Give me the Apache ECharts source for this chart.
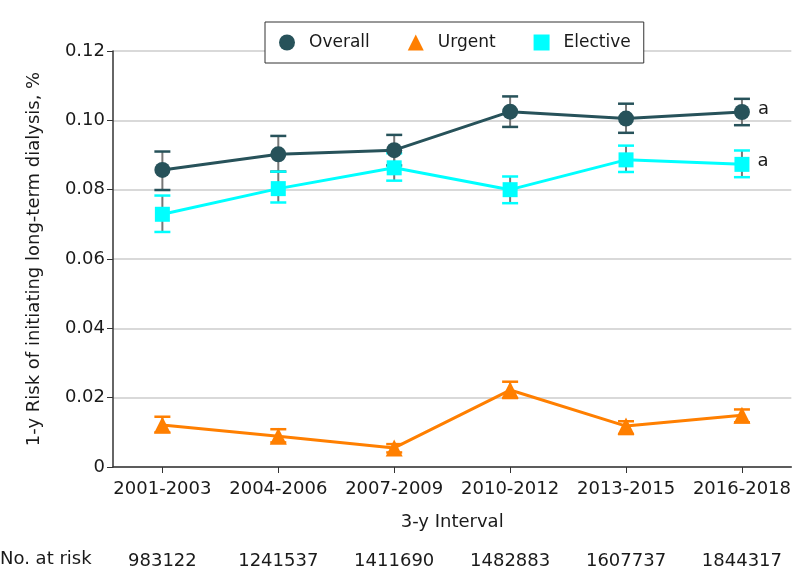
<!DOCTYPE html>
<html><head><meta charset="utf-8">
<script src="https://cdn.jsdelivr.net/npm/echarts@6/dist/echarts.min.js"></script>
<style>html,body{margin:0;padding:0;background:#fff}#c{width:794px;height:588px}</style>
</head><body><div id="c"></div>
<script>
const categories = ['2001-2003','2004-2006','2007-2009','2010-2012','2013-2015','2016-2018'];
const atRisk = ['983122','1241537','1411690','1482883','1607737','1844317'];
const overall = [0.0857, 0.0902, 0.0914, 0.1025, 0.1005, 0.1024];
const overallLow = [0.0799, 0.0852, 0.0870, 0.0981, 0.0964, 0.0986];
const overallHigh = [0.0910, 0.0955, 0.0958, 0.1069, 0.1048, 0.1062];
const urgent = [0.0121, 0.0089, 0.0055, 0.0222, 0.0118, 0.0149];
const urgentLow = [0.0100, 0.0071, 0.0042, 0.0199, 0.0095, 0.0129];
const urgentHigh = [0.0145, 0.0109, 0.0066, 0.0246, 0.0132, 0.0166];
const elective = [0.0729, 0.0803, 0.0863, 0.0800, 0.0886, 0.0873];
const electiveLow = [0.0678, 0.0763, 0.0826, 0.0761, 0.0851, 0.0836];
const electiveHigh = [0.0783, 0.0852, 0.0905, 0.0838, 0.0927, 0.0913];
const yTicks = [0, 0.02, 0.04, 0.06, 0.08, 0.10, 0.12];

const C_OV = '#27525A', C_UR = '#FF7F00', C_EL = '#00FFFF';
const FONT = 'DejaVu Sans';
const idx = categories.map((_, i) => i);

function errSeries(name, lo, hi, color) {
  return {
    type: 'custom', name: name + ' CI', z: 1, silent: true,
    data: idx.map(i => [i, lo[i], hi[i]]),
    renderItem: function (params, api) {
      const x = api.value(0);
      const pLo = api.coord([x, api.value(1)]);
      const pHi = api.coord([x, api.value(2)]);
      const hw = 8;
      return {
        type: 'group',
        children: [
          { type: 'line', shape: { x1: pLo[0], y1: pLo[1], x2: pHi[0], y2: pHi[1] }, style: { stroke: '#777777', lineWidth: 2 } },
          { type: 'line', shape: { x1: pLo[0] - hw, y1: pLo[1], x2: pLo[0] + hw, y2: pLo[1] }, style: { stroke: color, lineWidth: 2.5 } },
          { type: 'line', shape: { x1: pHi[0] - hw, y1: pHi[1], x2: pHi[0] + hw, y2: pHi[1] }, style: { stroke: color, lineWidth: 2.5 } }
        ]
      };
    }
  };
}
function lineSeries(name, vals, color, symbol, size, mark) {
  return {
    type: 'line', name: name, z: 3, symbol: symbol, symbolSize: size,
    lineStyle: { color: color, width: 3 }, itemStyle: { color: color },
    data: idx.map(i => {
      const d = { value: [i, vals[i]] };
      if (mark && i === idx.length - 1) {
        d.label = { show: true, position: 'right', distance: 8, formatter: 'a', color: '#1a1a1a', fontSize: 18, fontFamily: FONT, offset: [0, -3] };
      }
      return d;
    })
  };
}

const chart = echarts.init(document.getElementById('c'), null, { renderer: 'canvas' });
chart.setOption({
  animation: false,
  backgroundColor: '#fff',
  textStyle: { fontFamily: FONT },
  grid: { left: 113, right: 1, top: 51, bottom: 121, containLabel: false },
  legend: {
    left: 265, top: 22, height: 41,
    orient: 'horizontal', padding: [12, 13, 12, 14],
    backgroundColor: '#fff', borderColor: '#333', borderWidth: 1, borderRadius: 0,
    itemWidth: 16, itemHeight: 16, itemGap: 38,
    textStyle: { fontFamily: FONT, fontSize: 17, color: '#1a1a1a', padding: [0, 0, 0, 9] },
    data: [
      { name: 'Overall', icon: 'circle', itemStyle: { color: C_OV } },
      { name: 'Urgent', icon: 'triangle', itemStyle: { color: C_UR } },
      { name: 'Elective', icon: 'rect', itemStyle: { color: C_EL } }
    ]
  },
  xAxis: [{
    type: 'value', min: -0.426, max: 5.426,
    name: '3-y Interval', nameLocation: 'middle', nameGap: 46,
    nameTextStyle: { fontFamily: FONT, fontSize: 18, color: '#1a1a1a' },
    axisLine: { show: true, onZero: false, lineStyle: { color: '#333', width: 1.5 } },
    axisTick: { show: true, length: 6, lineStyle: { color: '#333' }, customValues: idx },
    axisLabel: { customValues: idx, margin: 13, fontFamily: FONT, fontSize: 18, color: '#1a1a1a',
      formatter: v => categories[Math.round(v)] },
    splitLine: { show: false }
  }, {
    type: 'value', min: -0.426, max: 5.426, position: 'bottom', offset: 73,
    axisLine: { show: false, onZero: false }, axisTick: { show: false },
    axisLabel: { customValues: idx, margin: 12, fontFamily: FONT, fontSize: 18, color: '#1a1a1a',
      formatter: v => atRisk[Math.round(v)] },
    splitLine: { show: false }
  }],
  yAxis: {
    type: 'value', min: 0, max: 0.12, interval: 0.02,
    name: '1-y Risk of initiating long-term dialysis, %', nameLocation: 'middle', nameGap: 70,
    nameTextStyle: { fontFamily: FONT, fontSize: 18, color: '#1a1a1a' },
    axisLine: { show: true, onZero: false, lineStyle: { color: '#333', width: 1.5 } },
    axisTick: { show: true, length: 6, lineStyle: { color: '#333' } },
    axisLabel: { margin: 8, fontFamily: FONT, fontSize: 18, color: '#1a1a1a',
      formatter: v => { const t = yTicks.find(t => Math.abs(t - v) < 1e-9); return (t === 0) ? '0' : v.toFixed(2); } },
    splitLine: { show: true, lineStyle: { color: '#d9d9d9', width: 2 } }
  },
  graphic: [{
    type: 'text', left: 0, top: 550,
    style: { text: 'No. at risk', fontFamily: FONT, fontSize: 18, fill: '#1a1a1a' }
  }],
  series: [
    errSeries('Overall', overallLow, overallHigh, C_OV),
    errSeries('Urgent', urgentLow, urgentHigh, C_UR),
    errSeries('Elective', electiveLow, electiveHigh, C_EL),
    lineSeries('Overall', overall, C_OV, 'circle', 16, true),
    lineSeries('Urgent', urgent, C_UR, 'triangle', 17, false),
    lineSeries('Elective', elective, C_EL, 'rect', 15, true)
  ]
});
</script></body></html>
